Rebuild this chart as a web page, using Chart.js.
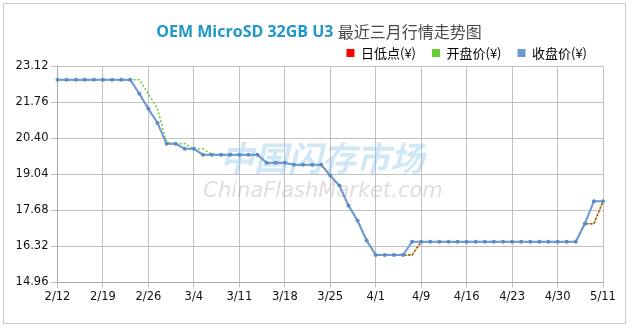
<!DOCTYPE html>
<html>
<head>
<meta charset="utf-8">
<script src="https://cdn.jsdelivr.net/npm/chart.js@4.4.0/dist/chart.umd.min.js"></script>
<style>
  html, body { margin: 0; padding: 0; background: #fff; }
</style>
</head>
<body>
<canvas id="priceChart" width="633" height="330"></canvas>
<script>
// Trading days shown on the chart (2020)
const dates = [
    '2/12', '2/13', '2/14', '2/17', '2/18', '2/19', '2/20', '2/21', '2/24', '2/25',
    '2/26', '2/27', '2/28', '3/2', '3/3', '3/4', '3/5', '3/6', '3/9', '3/10',
    '3/11', '3/12', '3/13', '3/16', '3/17', '3/18', '3/19', '3/20', '3/23', '3/24',
    '3/25', '3/26', '3/27', '3/30', '3/31', '4/1', '4/2', '4/3', '4/7', '4/8',
    '4/9', '4/10', '4/13', '4/14', '4/15', '4/16', '4/17', '4/20', '4/21', '4/22',
    '4/23', '4/24', '4/27', '4/28', '4/29', '4/30', '5/6', '5/7', '5/8', '5/9',
    '5/11'
];

// Dates that get a tick label and a grid line
const xTickLabels = ['2/12', '2/19', '2/26', '3/4', '3/11', '3/18', '3/25', '4/1', '4/9', '4/16', '4/23', '4/30', '5/11'];

// Value axis ticks
const yTickLabels = ['14.96', '16.32', '17.68', '19.04', '20.40', '21.76', '23.12'];

// 收盘价 (close)
const closePrices = [
    22.62, 22.62, 22.62, 22.62, 22.62, 22.62, 22.62, 22.62, 22.62, 22.09,
    21.52, 20.99, 20.20, 20.20, 20.01, 20.01, 19.79, 19.79, 19.79, 19.79,
    19.79, 19.79, 19.79, 19.48, 19.48, 19.48, 19.41, 19.41, 19.41, 19.41,
    19.00, 18.62, 17.87, 17.30, 16.55, 16.00, 16.00, 16.00, 16.00, 16.50,
    16.50, 16.50, 16.50, 16.50, 16.50, 16.50, 16.50, 16.50, 16.50, 16.50,
    16.50, 16.50, 16.50, 16.50, 16.50, 16.50, 16.50, 16.50, 17.18, 18.03,
    18.03
];

// 开盘价 (open)
const openPrices = [
    22.62, 22.62, 22.62, 22.62, 22.62, 22.62, 22.62, 22.62, 22.62, 22.62,
    22.09, 21.52, 20.25, 20.20, 20.20, 20.01, 20.01, 19.79, 19.79, 19.79,
    19.79, 19.79, 19.79, 19.48, 19.48, 19.48, 19.41, 19.41, 19.41, 19.41,
    19.00, 18.62, 17.87, 17.30, 16.55, 16.00, 16.00, 16.00, 16.00, 16.00,
    16.50, 16.50, 16.50, 16.50, 16.50, 16.50, 16.50, 16.50, 16.50, 16.50,
    16.50, 16.50, 16.50, 16.50, 16.50, 16.50, 16.50, 16.50, 17.18, 17.18,
    18.03
];

// 日低点 (daily low)
const lowPrices = [
    22.62, 22.62, 22.62, 22.62, 22.62, 22.62, 22.62, 22.62, 22.62, 22.09,
    21.52, 20.99, 20.20, 20.20, 20.01, 20.01, 19.79, 19.79, 19.79, 19.79,
    19.79, 19.79, 19.79, 19.48, 19.48, 19.48, 19.41, 19.41, 19.41, 19.41,
    19.00, 18.62, 17.87, 17.30, 16.55, 16.00, 16.00, 16.00, 16.00, 16.00,
    16.50, 16.50, 16.50, 16.50, 16.50, 16.50, 16.50, 16.50, 16.50, 16.50,
    16.50, 16.50, 16.50, 16.50, 16.50, 16.50, 16.50, 16.50, 17.18, 17.18,
    18.03
];

const tickFont = { family: 'DejaVu Sans', size: 11.5 };

// Outer frame and two-colour title
const frameAndTitle = {
    id: 'frameAndTitle',
    afterDraw(chart) {
        const ctx = chart.ctx;
        ctx.save();
        ctx.strokeStyle = '#c8c8c8';
        ctx.lineWidth = 1;
        ctx.strokeRect(3.5, 3.5, 622, 320);

        const partA = 'OEM MicroSD 32GB U3 ';
        const partB = '最近三月行情走势图';
        const fontA = 'bold 16px "Open Sans"';
        const fontB = '16px "Noto Sans CJK SC"';
        ctx.font = fontA;
        const wA = ctx.measureText(partA).width;
        ctx.font = fontB;
        const wB = ctx.measureText(partB).width;
        let x = 319 - (wA + wB) / 2;
        ctx.textBaseline = 'middle';
        ctx.textAlign = 'left';
        ctx.font = fontA;
        ctx.fillStyle = '#1f98c9';
        ctx.fillText(partA, x, 32);
        ctx.font = fontB;
        ctx.fillStyle = '#4a4a4a';
        ctx.fillText(partB, x + wA, 32);
        ctx.restore();
    }
};

// Site watermark behind the lines
const watermark = {
    id: 'watermark',
    beforeDatasetsDraw(chart) {
        const ctx = chart.ctx;
        ctx.save();
        ctx.textAlign = 'center';
        ctx.textBaseline = 'middle';
        ctx.font = 'bold italic 34px "Noto Sans CJK SC"';
        ctx.fillStyle = 'rgba(120, 185, 230, 0.35)';
        ctx.fillText('中国闪存市场', 322, 158);
        ctx.font = 'italic 21px "DejaVu Sans"';
        ctx.fillStyle = 'rgba(160, 160, 160, 0.35)';
        ctx.fillText('ChinaFlashMarket.com', 323, 192);
        ctx.restore();
    }
};

const data = {
    labels: dates,
    datasets: [
        {
            label: '收盘价(¥)',
            data: closePrices,
            borderColor: '#6b9bd1',
            backgroundColor: '#6b9bd1',
            borderWidth: 2,
            pointRadius: 2,
            pointBackgroundColor: '#5b8cc9',
            pointBorderWidth: 0
        },
        {
            label: '开盘价(¥)',
            data: openPrices,
            borderColor: '#66cc33',
            backgroundColor: '#66cc33',
            borderWidth: 1.5,
            borderDash: [2, 2],
            pointRadius: 0
        },
        {
            label: '日低点(¥)',
            data: lowPrices,
            borderColor: '#ff0000',
            backgroundColor: '#ff0000',
            borderWidth: 1.5,
            borderDash: [2, 2],
            borderDashOffset: 2,
            pointRadius: 0
        }
    ]
};

const config = {
    type: 'line',
    data: data,
    plugins: [watermark, frameAndTitle],
    options: {
        responsive: false,
        animation: false,
        events: [],
        layout: {
            padding: { top: 30.5, left: 4, right: 30, bottom: 0 }
        },
        elements: {
            line: { tension: 0 }
        },
        plugins: {
            tooltip: { enabled: false },
            legend: {
                position: 'top',
                align: 'end',
                reverse: true,
                maxHeight: 36,
                labels: {
                    boxWidth: 8,
                    boxHeight: 8,
                    padding: 16,
                    color: '#333',
                    font: { family: 'Noto Sans CJK SC', size: 13 },
                    generateLabels: function(chart) {
                        return chart.data.datasets.map((ds, i) => ({
                            text: ds.label,
                            fillStyle: ds.borderColor,
                            strokeStyle: ds.borderColor,
                            lineWidth: 0,
                            lineDash: [],
                            hidden: false,
                            datasetIndex: i
                        }));
                    }
                }
            }
        },
        scales: {
            x: {
                afterBuildTicks: function(scale) {
                    scale.ticks = scale.ticks.filter(t => xTickLabels.includes(dates[t.value]));
                },
                afterFit: function(scale) {
                    scale.height = 47.5;
                },
                ticks: {
                    autoSkip: false,
                    maxRotation: 0,
                    padding: 3,
                    color: '#111',
                    font: tickFont
                },
                grid: { color: '#c0c0c0', tickLength: 5 },
                border: { color: '#a8a8a8' }
            },
            y: {
                min: 14.96,
                max: 23.12,
                afterBuildTicks: function(scale) {
                    scale.ticks = yTickLabels.map(v => ({ value: parseFloat(v) }));
                },
                afterFit: function(scale) {
                    scale.width = 53.5;
                },
                ticks: {
                    padding: 2,
                    color: '#111',
                    font: tickFont,
                    callback: function(value) {
                        return value.toFixed(2);
                    }
                },
                grid: { color: '#c0c0c0', tickLength: 7 },
                border: { color: '#a8a8a8' }
            }
        }
    }
};

const priceChart = new Chart(document.getElementById('priceChart'), config);
</script>
</body>
</html>
